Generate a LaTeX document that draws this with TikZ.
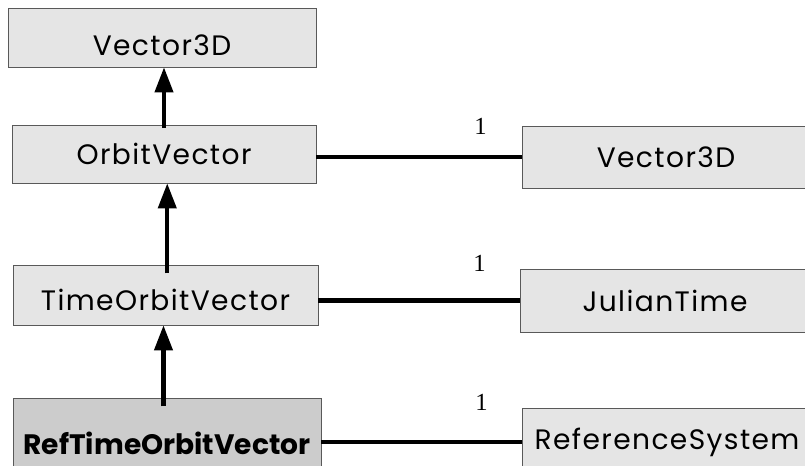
\documentclass[tikz,border=0pt]{standalone}
\usepackage{fontspec}
\setmainfont{Poppins}[LetterSpace=5,BoldFeatures={LetterSpace=0}]
\newfontfamily\numfont{Liberation Serif}
\usetikzlibrary{arrows.meta}

\begin{document}
\begin{tikzpicture}[x=0.02cm,y=-0.02cm,
cls/.style={draw=black!65,fill=black!10,inner sep=0pt,font=\fontsize{16}{19}\selectfont},
main/.style={cls,fill=black!20,font=\fontsize{16}{19}\selectfont\bfseries},
gen/.style={-{Triangle[length=0.5cm,width=0.36cm]},line width=2.3pt},
assoc/.style={line width=2.3pt},
lab/.style={font=\numfont\fontsize{14}{16}\selectfont,pos=0.8}]
\useasboundingbox (0,0) rectangle (805,466);
\clip (0,0) rectangle (805,466);
% class hierarchy on the left
\node[cls,minimum width=6.16cm,minimum height=1.18cm] (vec) at (162,37.5) {\raisebox{-0.16cm}[\height][0pt]{Vector3D}};
\node[cls,minimum width=6.08cm,minimum height=1.16cm] (orbit) at (164,154) {OrbitVector};
\node[cls,minimum width=6.1cm,minimum height=1.2cm] (torbit) at (165.5,295) {\raisebox{-0.1cm}[\height][0pt]{TimeOrbitVector}};
\node[main,minimum width=6.16cm,minimum height=1.8cm] (reftorbit) at (167,443) {RefTimeOrbitVector};
% associated classes on the right
\node[cls,minimum width=5.76cm,minimum height=1.24cm] (vecb) at (666,157) {Vector3D};
\node[cls,minimum width=5.8cm,minimum height=1.26cm] (julian) at (665,300.5) {JulianTime};
\node[cls,minimum width=5.8cm,minimum height=1.36cm] (refsys) at (667,442) {ReferenceSystem};
% generalisation
\draw[gen] ([yshift=-2pt]orbit.north) -- (orbit.north |- vec.south);
\draw[gen] ([yshift=-5pt,xshift=1pt]torbit.north) -- ([xshift=1pt]torbit.north |- orbit.south);
\draw[gen] ([yshift=-5pt,xshift=-2pt]reftorbit.north) -- ([xshift=-2pt]reftorbit.north |- torbit.south);
% associations
\draw[assoc] (orbit.east |- vecb.west) -- (vecb.west) node[lab,yshift=0.62cm] {1};
\draw[assoc] (torbit.east |- julian.west) -- (julian.west) node[lab,yshift=0.74cm] {1};
\draw[assoc] (reftorbit.east |- refsys.west) -- (refsys.west) node[lab,yshift=0.8cm] {1};
\end{tikzpicture}
\end{document}
